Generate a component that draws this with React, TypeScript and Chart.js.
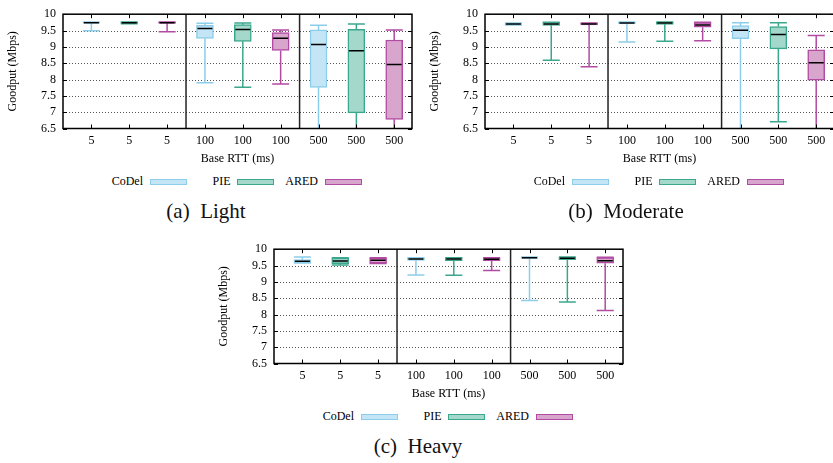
import React, { useEffect, useRef } from "react";
import { Chart, registerables } from "chart.js";

Chart.register(...registerables);

const FONT = "'Liberation Serif', 'Times New Roman', serif";

// Axis categories / ticks
const rttLabels = ["5", "5", "5", "100", "100", "100", "500", "500", "500"];
const xPositions = [1, 2, 3, 4, 5, 6, 7, 8, 9];
const groupSeparators = [3.5, 6.5];
const yTicks = [6.5, 7, 7.5, 8, 8.5, 9, 9.5, 10];

// Series
const seriesNames = ["CoDel", "PIE", "ARED"];
const seriesFill = ["#c3e5f6", "#a3d8cb", "#d8a5cd"];
const seriesLine = ["#8ccdea", "#3ba88e", "#b24ba2"];

// Five-number summaries [min, q1, median, q3, max] for base RTT 5, 100, 500 ms
// (a) Light
const lightCoDel = [[9.49, 9.72, 9.74, 9.75, 9.76], [7.9, 9.26, 9.56, 9.66, 9.72], [6.0, 7.76, 9.07, 9.52, 9.66]];
const lightPIE = [[9.71, 9.72, 9.74, 9.76, 9.76], [7.76, 9.17, 9.53, 9.68, 9.73], [6.0, 6.98, 8.88, 9.54, 9.7]];
const lightARED = [[9.46, 9.72, 9.74, 9.76, 9.76], [7.86, 8.89, 9.26, 9.44, 9.52], [6.0, 6.78, 8.46, 9.21, 9.52]];
// (b) Moderate
const moderateCoDel = [[9.67, 9.67, 9.7, 9.73, 9.73], [9.15, 9.7, 9.73, 9.76, 9.76], [6.0, 9.25, 9.51, 9.65, 9.74]];
const moderatePIE = [[8.59, 9.66, 9.7, 9.75, 9.75], [9.17, 9.69, 9.73, 9.76, 9.76], [6.71, 8.94, 9.38, 9.62, 9.74]];
const moderateARED = [[8.39, 9.67, 9.7, 9.73, 9.73], [9.19, 9.6, 9.67, 9.74, 9.75], [6.0, 7.98, 8.51, 8.91, 9.35]];
// (c) Heavy
const heavyCoDel = [[9.58, 9.59, 9.63, 9.68, 9.76], [9.21, 9.66, 9.7, 9.74, 9.74], [8.43, 9.71, 9.74, 9.76, 9.76]];
const heavyPIE = [[9.52, 9.56, 9.64, 9.73, 9.74], [9.2, 9.65, 9.7, 9.74, 9.74], [8.38, 9.68, 9.72, 9.76, 9.76]];
const heavyARED = [[9.56, 9.57, 9.66, 9.73, 9.74], [9.35, 9.65, 9.69, 9.73, 9.74], [8.12, 9.57, 9.65, 9.74, 9.75]];

const lightStats = [lightCoDel, lightPIE, lightARED];
const moderateStats = [moderateCoDel, moderatePIE, moderateARED];
const heavyStats = [heavyCoDel, heavyPIE, heavyARED];

const BOX_W = 17;

function buildDatasets(stats: number[][][]) {
  return stats.map((st, s) => ({
    label: seriesNames[s],
    data: st.map((v, r) => ({ x: xPositions[r * 3 + s], y: [v[1], v[3]] })),
    stats: st,
    backgroundColor: seriesFill[s],
    borderColor: seriesLine[s],
    borderWidth: 1.5,
    borderSkipped: false,
    barThickness: BOX_W,
    maxBarThickness: BOX_W,
    grouped: false,
  }));
}

const gnuplotPlugin = {
  id: "gnuplotFrame",
  beforeDatasetsDraw(chart: any) {
    const { ctx, chartArea: a, scales } = chart;
    const y = scales.y;
    ctx.save();
    ctx.strokeStyle = "#555";
    ctx.lineWidth = 1;
    ctx.setLineDash([1, 2]);
    yTicks.forEach((v, i) => {
      if (i === 0 || i === yTicks.length - 1) return;
      const py = Math.round(y.getPixelForValue(v)) + 0.5;
      ctx.beginPath();
      ctx.moveTo(a.left, py);
      ctx.lineTo(a.right, py);
      ctx.stroke();
    });
    ctx.restore();
  },
  afterDatasetsDraw(chart: any) {
    const { ctx, chartArea: a, scales } = chart;
    const x = scales.x;
    const y = scales.y;
    const half = BOX_W / 2;
    ctx.save();
    ctx.beginPath();
    ctx.rect(a.left, a.top, a.right - a.left, a.bottom - a.top);
    ctx.clip();
    chart.data.datasets.forEach((ds: any) => {
      ds.data.forEach((pt: any, r: number) => {
        const st = ds.stats[r];
        const cx = x.getPixelForValue(pt.x);
        const pMin = y.getPixelForValue(st[0]);
        const pQ1 = y.getPixelForValue(st[1]);
        const pMed = y.getPixelForValue(st[2]);
        const pQ3 = y.getPixelForValue(st[3]);
        const pMax = y.getPixelForValue(st[4]);
        ctx.strokeStyle = ds.borderColor;
        ctx.lineWidth = 1.5;
        ctx.beginPath();
        ctx.moveTo(cx, pQ3);
        ctx.lineTo(cx, pMax);
        ctx.moveTo(cx - half, pMax);
        ctx.lineTo(cx + half, pMax);
        ctx.moveTo(cx, pQ1);
        ctx.lineTo(cx, pMin);
        ctx.moveTo(cx - half, pMin);
        ctx.lineTo(cx + half, pMin);
        ctx.stroke();
        ctx.strokeStyle = "#000";
        ctx.lineWidth = 1.5;
        ctx.beginPath();
        ctx.moveTo(cx - half + 1, pMed);
        ctx.lineTo(cx + half - 1, pMed);
        ctx.stroke();
      });
    });
    ctx.restore();

    // frame, separators and tics
    ctx.save();
    ctx.strokeStyle = "#000";
    ctx.lineWidth = 1;
    const tl = 4;
    xPositions.forEach((v) => {
      const px = Math.round(x.getPixelForValue(v)) + 0.5;
      ctx.beginPath();
      ctx.moveTo(px, a.bottom);
      ctx.lineTo(px, a.bottom - tl);
      ctx.moveTo(px, a.top);
      ctx.lineTo(px, a.top + tl);
      ctx.stroke();
    });
    yTicks.forEach((v) => {
      const py = Math.round(y.getPixelForValue(v)) + 0.5;
      ctx.beginPath();
      ctx.moveTo(a.left, py);
      ctx.lineTo(a.left + tl, py);
      ctx.moveTo(a.right, py);
      ctx.lineTo(a.right - tl, py);
      ctx.stroke();
    });
    ctx.lineWidth = 1.5;
    ctx.strokeStyle = "#222";
    groupSeparators.forEach((v) => {
      const px = x.getPixelForValue(v);
      ctx.beginPath();
      ctx.moveTo(px, a.top);
      ctx.lineTo(px, a.bottom);
      ctx.stroke();
    });
    ctx.strokeStyle = "#000";
    ctx.strokeRect(a.left, a.top, a.right - a.left, a.bottom - a.top);
    ctx.restore();
  },
};

const CANVAS_W = 425;
const CANVAS_H = 166;

function BoxChart({ stats, plotLeft, plotTop }: { stats: number[][][]; plotLeft: number; plotTop: number }) {
  const ref = useRef<HTMLCanvasElement>(null);
  useEffect(() => {
    const tickFont = { family: FONT, size: 12 };
    const chart = new Chart(ref.current as HTMLCanvasElement, {
      type: "bar",
      data: { datasets: buildDatasets(stats) as any },
      options: {
        animation: false,
        responsive: false,
        devicePixelRatio: 1,
        layout: { padding: { top: 9.5, right: 13, left: 0, bottom: 0 } },
        plugins: { legend: { display: false }, tooltip: { enabled: false } },
        scales: {
          x: {
            type: "linear",
            min: 0.25,
            max: 9.47,
            offset: false,
            afterBuildTicks: (s: any) => {
              s.ticks = xPositions.map((v) => ({ value: v }));
            },
            afterFit: (s: any) => {
              s.height = 37.5;
            },
            grid: { display: false, drawTicks: false },
            border: { display: false },
            ticks: {
              autoSkip: false,
              maxRotation: 0,
              minRotation: 0,
              padding: 5,
              color: "#000",
              font: tickFont,
              callback: (_v: any, i: number) => rttLabels[i],
            },
            title: { display: true, text: "Base RTT (ms)", color: "#000", font: tickFont, padding: 0 },
          },
          y: {
            type: "linear",
            min: 6.5,
            max: 10,
            afterBuildTicks: (s: any) => {
              s.ticks = yTicks.map((v) => ({ value: v }));
            },
            afterFit: (s: any) => {
              s.width = 63;
            },
            grid: { display: false, drawTicks: false },
            border: { display: false },
            ticks: { autoSkip: false, padding: 7, color: "#000", font: tickFont, callback: (v: any) => String(v) },
            title: {
              display: true,
              text: "Goodput (Mbps)",
              color: "#000",
              font: tickFont,
              padding: { top: 5.8, bottom: 0 },
            },
          },
        },
      } as any,
      plugins: [gnuplotPlugin],
    });
    return () => chart.destroy();
  }, [stats]);
  return (
    <canvas
      ref={ref}
      width={CANVAS_W}
      height={CANVAS_H}
      style={{ position: "absolute", left: plotLeft - 63, top: plotTop - 9.5, width: CANVAS_W, height: CANVAS_H }}
    />
  );
}

const legendTextEnds = [80, 167.5, 255];
const legendSwatchStarts = [87, 174, 262];

function Legend({ plotLeft, plotTop }: { plotLeft: number; plotTop: number }) {
  const cy = plotTop + 172.5;
  return (
    <>
      {seriesNames.map((n, i) => (
        <React.Fragment key={n}>
          <div
            style={{
              position: "absolute",
              left: plotLeft + legendTextEnds[i] - 60,
              width: 60,
              top: cy - 9,
              height: 16,
              lineHeight: "16px",
              textAlign: "right",
              fontFamily: FONT,
              fontSize: 12,
              color: "#000",
            }}
          >
            {n}
          </div>
          <div
            style={{
              position: "absolute",
              left: plotLeft + legendSwatchStarts[i],
              top: cy - 3,
              width: 37,
              height: 6,
              boxSizing: "border-box",
              background: seriesFill[i],
              border: `1.5px solid ${seriesLine[i]}`,
            }}
          />
        </React.Fragment>
      ))}
    </>
  );
}

function Caption({ text, cx, baseline }: { text: string; cx: number; baseline: number }) {
  return (
    <div
      style={{
        position: "absolute",
        left: cx - 120,
        width: 240,
        top: baseline - 19,
        height: 24,
        lineHeight: "24px",
        textAlign: "center",
        fontFamily: FONT,
        fontSize: 21,
        whiteSpace: "pre",
        color: "#111",
      }}
    >
      {text}
    </div>
  );
}

export default function App() {
  return (
    <div
      style={{
        position: "fixed",
        left: 0,
        top: 0,
        width: 833,
        height: 463,
        overflow: "hidden",
        background: "#fff",
      }}
    >
      <BoxChart stats={lightStats} plotLeft={63} plotTop={9.5} />
      <Legend plotLeft={63} plotTop={9.5} />
      <Caption text={"(a)  Light"} cx={206} baseline={218} />

      <BoxChart stats={moderateStats} plotLeft={485} plotTop={9.5} />
      <Legend plotLeft={485} plotTop={9.5} />
      <Caption text={"(b)  Moderate"} cx={626} baseline={218} />

      <BoxChart stats={heavyStats} plotLeft={274} plotTop={244.5} />
      <Legend plotLeft={274} plotTop={244.5} />
      <Caption text={"(c)  Heavy"} cx={418} baseline={452.5} />
    </div>
  );
}
